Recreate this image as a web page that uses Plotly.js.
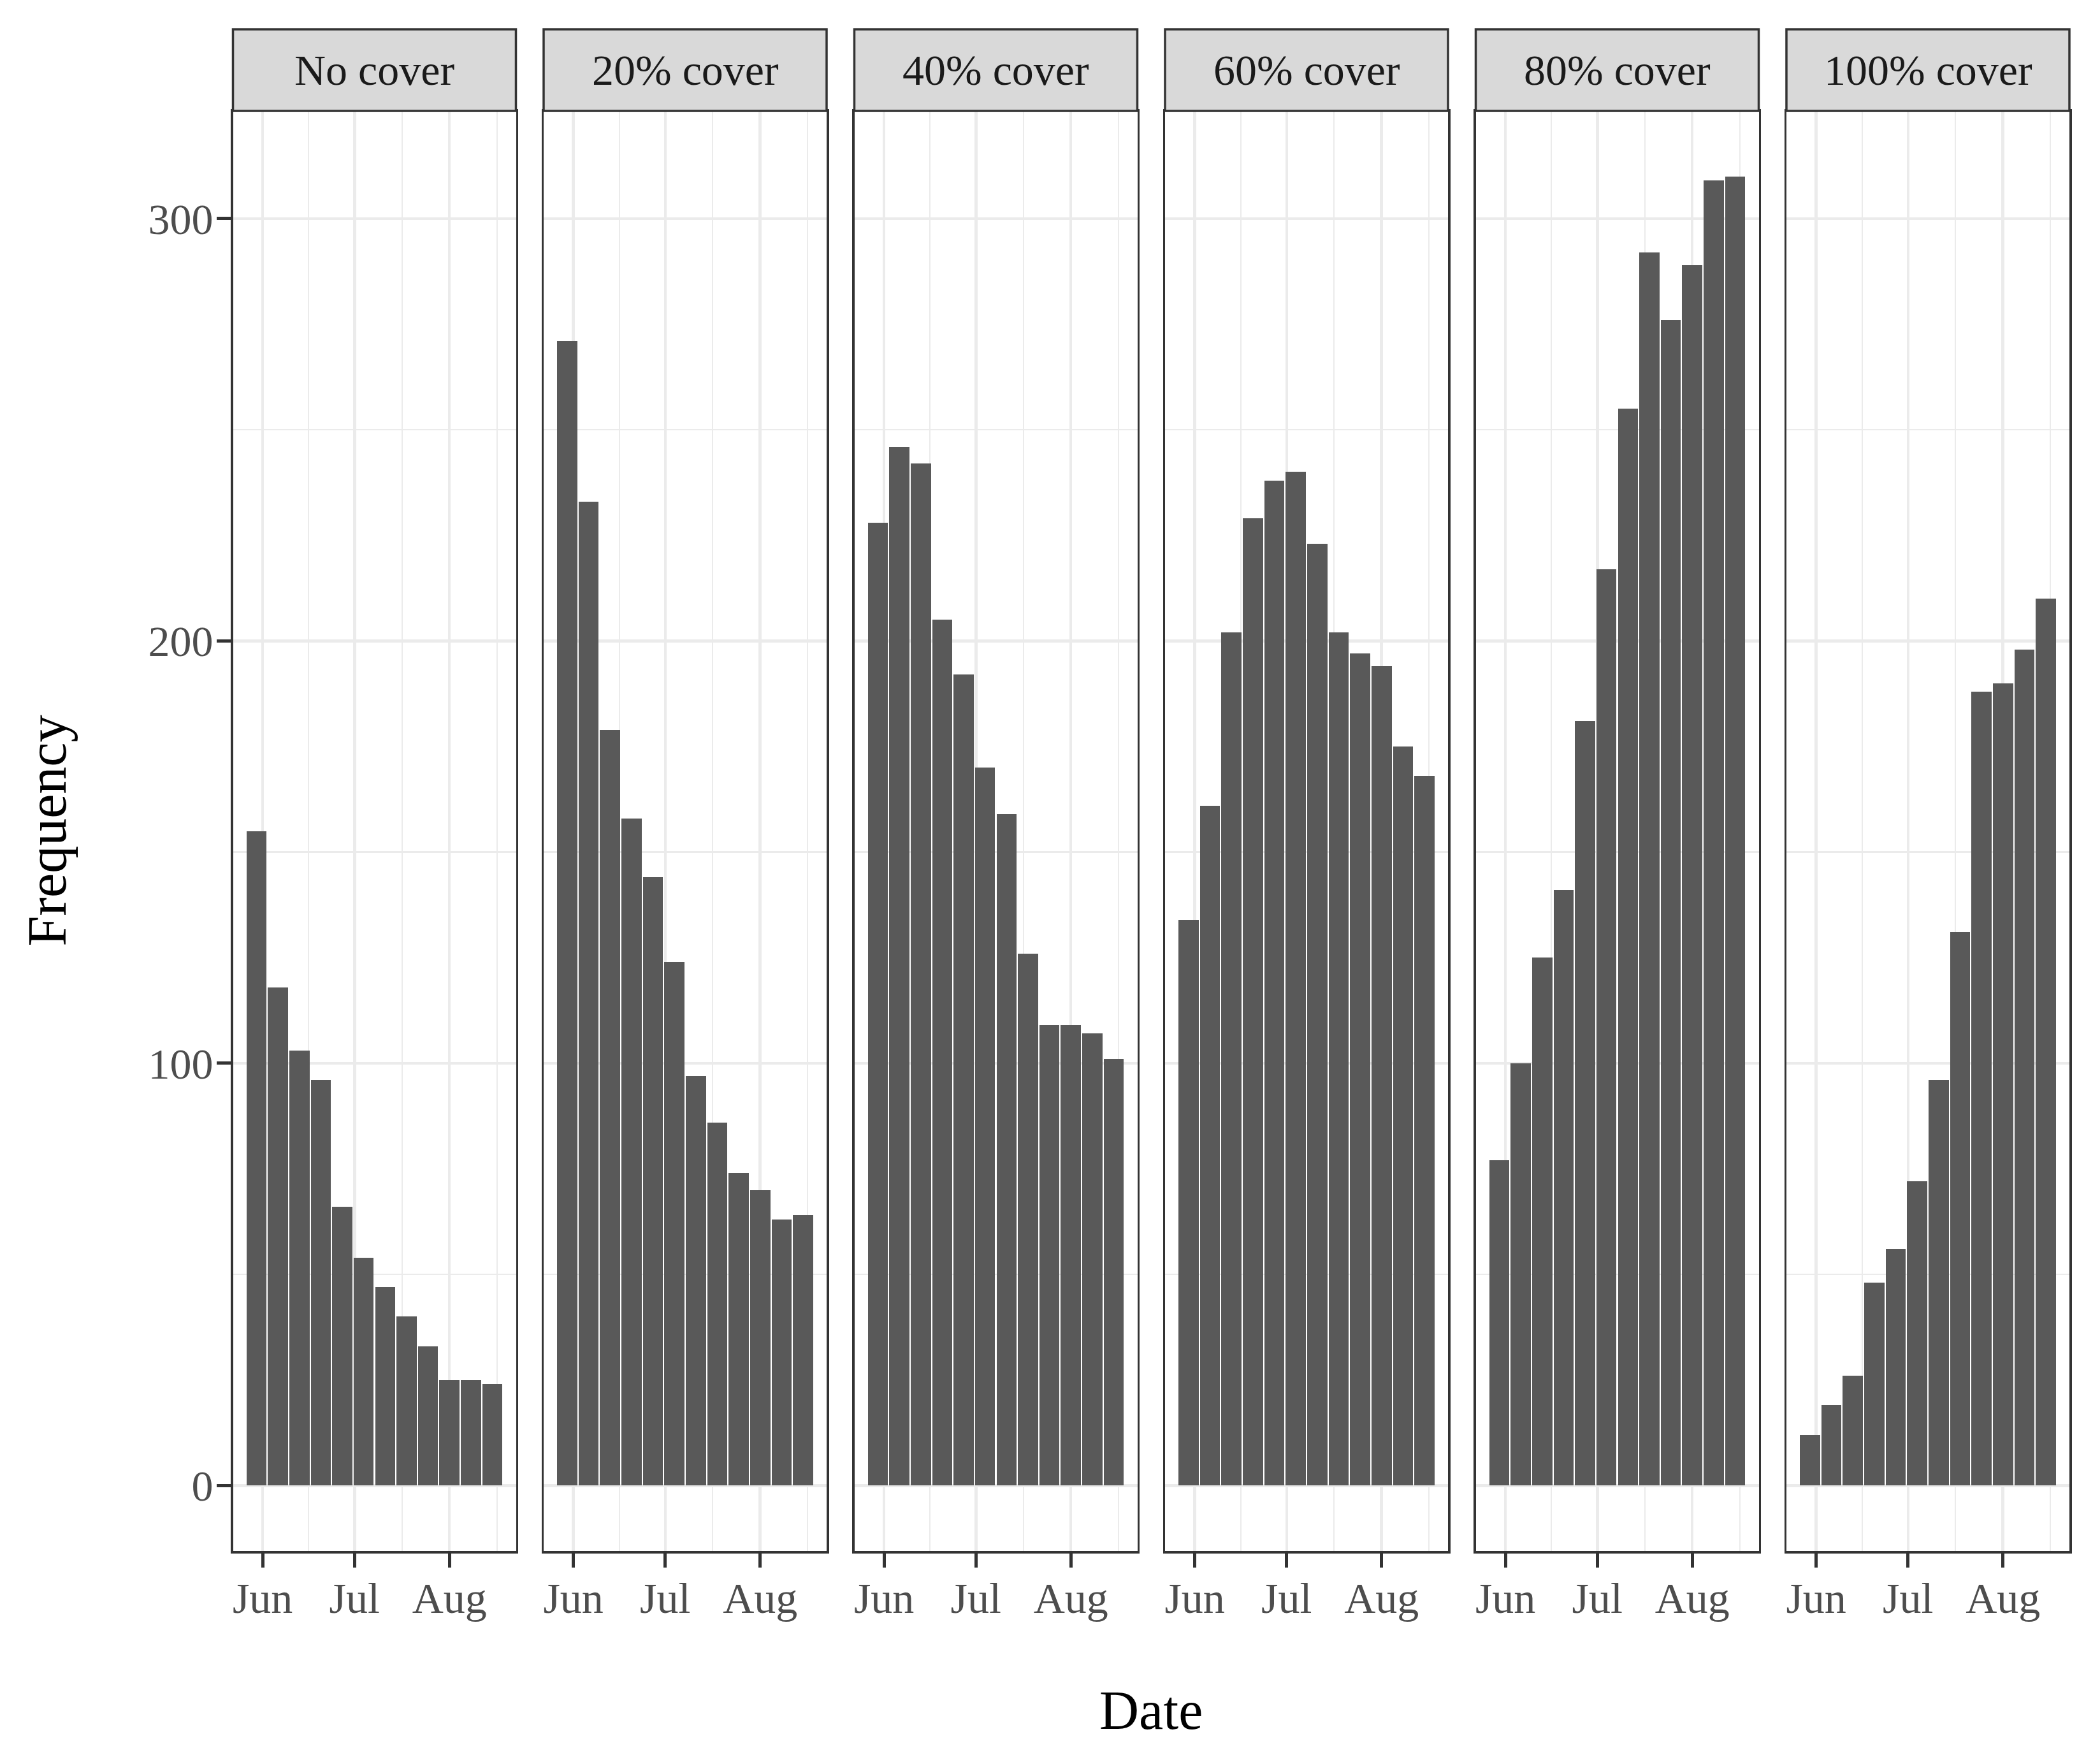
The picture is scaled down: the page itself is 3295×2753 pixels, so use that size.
<!DOCTYPE html>
<html>
<head>
<meta charset="utf-8">
<script src="https://cdn.plot.ly/plotly-3.0.1.min.js"></script>
<style>html,body{margin:0;padding:0;background:#fff;}#chart{width:3295px;height:2753px;}</style>
</head>
<body>
<div id="chart"></div>
<script>
// ---- data ----
const categories = ['No cover', '20% cover', '40% cover', '60% cover', '80% cover', '100% cover'];
const weeks = ['2017-05-30', '2017-06-06', '2017-06-13', '2017-06-20',
               '2017-06-27', '2017-07-04', '2017-07-11', '2017-07-18',
               '2017-07-25', '2017-08-01', '2017-08-08', '2017-08-15'];
const noCover  = [155, 118, 103, 96, 66, 54, 47, 40, 33, 25, 25, 24];
const cover20  = [271, 233, 179, 158, 144, 124, 97, 86, 74, 70, 63, 64];
const cover40  = [228, 246, 242, 205, 192, 170, 159, 126, 109, 109, 107, 101];
const cover60  = [134, 161, 202, 229, 238, 240, 223, 202, 197, 194, 175, 168];
const cover80  = [77, 100, 125, 141, 181, 217, 255, 292, 276, 289, 309, 310];
const cover100 = [12, 19, 26, 48, 56, 72, 96, 131, 188, 190, 198, 210];
const monthTicks = ['2017-06-01', '2017-07-01', '2017-08-01'];
const monthLabels = ['Jun', 'Jul', 'Aug'];
const yTicks = [0, 100, 200, 300];

const series = [noCover, cover20, cover40, cover60, cover80, cover100];

// ---- layout geometry (pixels of the 3295x2753 canvas) ----
const W = 3295, H = 2753;
const left0 = 365.5, panelW = 444, pitch = 487.5;
const panelTop = 174, panelBottom = 2433, stripTop = 46;
const FONT = 'Liberation Serif, "Times New Roman", serif';
const DAY = 86400000;
const binDays = 7;

const px = v => v / W;
const py = v => (H - v) / H;

// x range: bars extent with 5% expansion (ggplot default)
const t0 = new Date(weeks[0] + 'T00:00Z').getTime();
const t1 = new Date(weeks[weeks.length - 1] + 'T00:00Z').getTime();
const lo = t0 - binDays * DAY / 2, hi = t1 + binDays * DAY / 2;
const span = hi - lo;
const fmt = ms => new Date(ms).toISOString().replace('T', ' ').replace('Z', '');
const xRange = [fmt(lo - 0.05 * span), fmt(hi + 0.05 * span)];

const ymax = Math.max(...series.flat());
const yRange = [-0.05 * ymax, ymax * 1.05];

// minor x gridlines halfway between month breaks
const mids = [];
const ext = ['2017-05-01', ...monthTicks, '2017-09-01'];
for (let i = 0; i < ext.length - 1; i++) {
  const a = new Date(ext[i] + 'T00:00Z').getTime(), b = new Date(ext[i + 1] + 'T00:00Z').getTime();
  mids.push(fmt((a + b) / 2));
}

const traces = [];
const layout = {
  width: W, height: H,
  margin: {l: 0, r: 0, t: 0, b: 0},
  paper_bgcolor: '#fff', plot_bgcolor: '#fff',
  showlegend: false,
  bargap: 0,
  font: {family: FONT, color: '#4D4D4D'},
  shapes: [], annotations: []
};

const gridMajor = '#EBEBEB';
series.forEach((vals, i) => {
  const n = i === 0 ? '' : String(i + 1);
  traces.push({
    type: 'bar', x: weeks, y: vals,
    xaxis: 'x' + n, yaxis: 'y' + n,
    width: weeks.map(() => binDays * DAY * 0.94),
    marker: {color: '#595959'},
    hoverinfo: 'x+y'
  });
  const l = left0 + i * pitch, r = l + panelW;
  layout['xaxis' + n] = {
    type: 'date', domain: [px(l), px(r)], anchor: 'y' + n,
    range: xRange,
    tickmode: 'array', tickvals: monthTicks, ticktext: monthLabels,
    ticks: 'outside', ticklen: 22, tickwidth: 5, tickcolor: '#333333',
    ticklabelstandoff: -10,
    tickfont: {family: FONT, size: 68, color: '#4D4D4D'},
    showgrid: true, gridcolor: gridMajor, gridwidth: 4.5,
    minor: {tickmode: 'array', tickvals: mids, showgrid: true, gridcolor: gridMajor, gridwidth: 2.3, ticks: ''},
    showline: true, linecolor: '#333333', linewidth: 3.5, mirror: true,
    zeroline: false, fixedrange: true
  };
  layout['yaxis' + n] = {
    domain: [py(panelBottom), py(panelTop)], anchor: 'x' + n,
    range: yRange,
    tickmode: 'array', tickvals: yTicks, ticktext: yTicks.map(String),
    showticklabels: i === 0,
    ticks: i === 0 ? 'outside' : '', ticklen: 22, tickwidth: 5, tickcolor: '#333333',
    ticklabelstandoff: -8,
    tickfont: {family: FONT, size: 68, color: '#4D4D4D'},
    showgrid: true, gridcolor: gridMajor, gridwidth: 4.5,
    minor: {dtick: 50, tick0: 0, showgrid: true, gridcolor: gridMajor, gridwidth: 2.3, ticks: ''},
    showline: true, linecolor: '#333333', linewidth: 3.5, mirror: true,
    zeroline: false, fixedrange: true
  };
  // facet strip
  layout.shapes.push({
    type: 'rect', xref: 'paper', yref: 'paper',
    x0: px(l), x1: px(r), y0: py(panelTop), y1: py(stripTop),
    fillcolor: '#D9D9D9', line: {color: '#333333', width: 3.5}, layer: 'above'
  });
  layout.annotations.push({
    xref: 'paper', yref: 'paper', x: px((l + r) / 2), y: py((panelTop + stripTop) / 2),
    text: categories[i], showarrow: false, xanchor: 'center', yanchor: 'middle',
    font: {family: FONT, size: 68, color: '#1A1A1A'}
  });
});

// axis titles
layout.annotations.push({
  xref: 'paper', yref: 'paper', x: px((left0 + left0 + 5 * pitch + panelW) / 2), y: py(2683),
  text: 'Date', showarrow: false, xanchor: 'center', yanchor: 'middle',
  font: {family: FONT, size: 86, color: '#000000'}
});
layout.annotations.push({
  xref: 'paper', yref: 'paper', x: px(74), y: py((panelTop + panelBottom) / 2),
  text: 'Frequency', showarrow: false, textangle: -90, xanchor: 'center', yanchor: 'middle',
  font: {family: FONT, size: 86, color: '#000000'}
});

Plotly.newPlot('chart', traces, layout, {displayModeBar: false, staticPlot: true});
</script>
</body>
</html>
